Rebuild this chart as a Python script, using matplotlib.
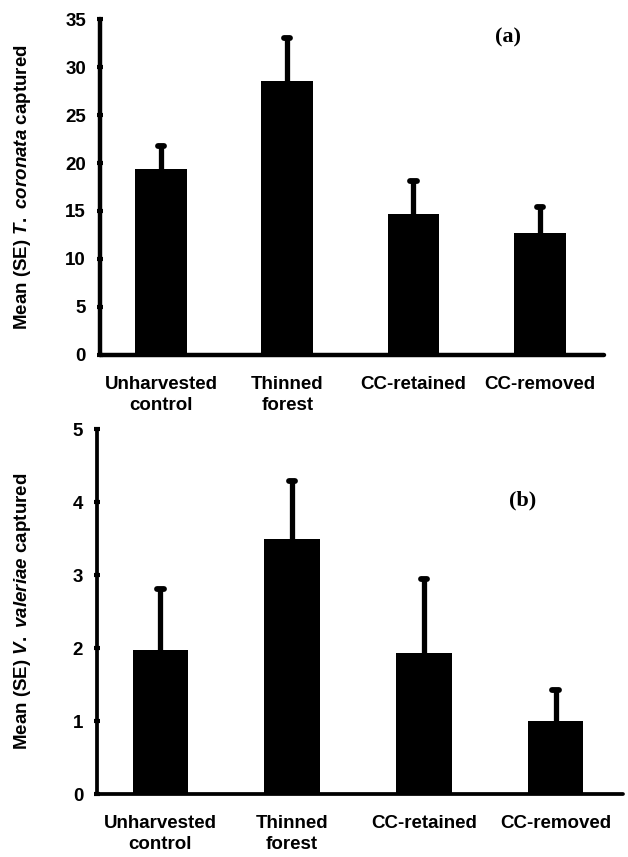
import matplotlib
matplotlib.use("Agg")
import matplotlib.pyplot as plt
import numpy as np

# data
categories = ["Unharvested\ncontrol", "Thinned\nforest", "CC-retained", "CC-removed"]
coronata_mean = [19.4, 28.5, 14.7, 12.7]
coronata_se = [2.4, 4.5, 3.4, 2.75]
valeriae_mean = [1.97, 3.49, 1.93, 1.0]
valeriae_se = [0.84, 0.80, 1.01, 0.43]
coronata_ticks = [0, 5, 10, 15, 20, 25, 30, 35]
valeriae_ticks = [0, 1, 2, 3, 4, 5]

plt.rcParams["font.family"] = ["Liberation Sans", "DejaVu Sans"]
plt.rcParams["font.weight"] = "bold"
plt.rcParams["mathtext.fontset"] = "custom"
plt.rcParams["mathtext.it"] = "Liberation Sans:bold:italic"
plt.rcParams["mathtext.rm"] = "Liberation Sans:bold"


def draw_panel(ax, means, ses, ticks, ylabel, tag, tag_y, bar_w, xlim, lw, xpad, label_x):
	x = np.arange(len(categories))
	means = np.array(means)
	ses = np.array(ses)
	ax.bar(x, means, width=bar_w, color="black", zorder=3)
	ax.vlines(x, means - ses, means + ses, color="black", linewidth=3.8, zorder=2)
	caps = ax.hlines(means + ses, x - 0.025, x + 0.025, color="black", linewidth=4.2, zorder=2)
	caps.set_capstyle("round")
	ax.set_xlim(*xlim)
	ax.set_ylim(ticks[0], ticks[-1])
	ax.set_yticks(ticks)
	ax.set_xticks(x)
	ax.set_xticklabels(categories, fontsize=13.5, fontweight="bold", linespacing=1.35)
	ax.tick_params(axis="x", length=0, pad=xpad)
	ax.tick_params(axis="y", direction="inout", length=4, width=3, labelsize=13.5, pad=8)
	for t in ax.get_yticklabels():
		t.set_fontweight("bold")
	for s in ["top", "right"]:
		ax.spines[s].set_visible(False)
	for s in ["left", "bottom"]:
		ax.spines[s].set_linewidth(lw)
		ax.spines[s].set_capstyle("round")
	ax.set_ylabel(ylabel, fontsize=13.5, fontweight="bold")
	ax.yaxis.set_label_coords(label_x, 0.5)
	ax.text(0.81, tag_y, tag, transform=ax.transAxes,
		ha="center", va="center", fontsize=16, fontweight="bold",
		family="Liberation Serif")


fig = plt.figure(figsize=(6.28, 8.57), dpi=100)
ax1 = fig.add_axes([0.1592, 0.5858, 0.8026, 0.3920])
ax2 = fig.add_axes([0.1545, 0.0735, 0.8375, 0.4259])

draw_panel(ax1, coronata_mean, coronata_se, coronata_ticks,
	r"Mean (SE) $\mathit{T.\ coronata}$ captured", "(a)", 0.946,
	0.41, (-0.485, 3.51), 3.2, 15, -0.133)
draw_panel(ax2, valeriae_mean, valeriae_se, valeriae_ticks,
	r"Mean (SE) $\mathit{V.\ valeriae}$ captured", "(b)", 0.805,
	0.42, (-0.48, 3.51), 2.7, 15, -0.122)

fig.savefig("out.png", dpi=100)
